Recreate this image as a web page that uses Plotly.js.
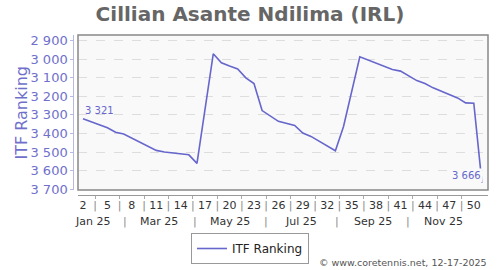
<!DOCTYPE html>
<html><head><meta charset="utf-8">
<script src="https://cdn.plot.ly/plotly-3.0.1.min.js"></script>
<style>html,body{margin:0;padding:0;background:#fff}#chart{width:500px;height:270px}</style>
</head><body><div id="chart"></div>
<script>
// ISO week numbers (2025) and ITF ranking values
const weeks   = [2, 5, 6, 7, 11, 12, 15, 16, 18, 19, 20, 21, 22, 23, 24, 25, 26, 28, 29, 30, 33, 34, 36, 40, 41, 43, 44, 45, 48, 49, 50, 51];
const ranking = [3321, 3370, 3394, 3403, 3491, 3500, 3515, 3561, 2972, 3020, 3038, 3053, 3101, 3132, 3277, 3308, 3335, 3357, 3398, 3416, 3493, 3363, 2988, 3056, 3065, 3116, 3132, 3155, 3209, 3236, 3238, 3666];
const weekTickLabels = [2, 5, 8, 11, 14, 17, 20, 23, 26, 29, 32, 35, 38, 41, 44, 47, 50];
const monthLabels = ['Jan 25', 'Mar 25', 'May 25', 'Jul 25', 'Sep 25', 'Nov 25'];
const monthLabelDates = ['2025-01-17', '2025-03-15', '2025-05-15', '2025-07-15', '2025-09-15', '2025-11-15'];
const monthSepDates = ['2025-02-14', '2025-04-15', '2025-06-15', '2025-08-15', '2025-10-15'];
const yTicks = [2900, 3000, 3100, 3200, 3300, 3400, 3500, 3600, 3700];
const seriesName = 'ITF Ranking';
const chartTitle = 'Cillian Asante Ndilima (IRL)';
const credit = '\u00a9 www.coretennis.net, 12-17-2025';

function weekDate(w) {
  const ms = Date.UTC(2025, 0, 2) + 7 * (w - 1) * 86400000;
  return new Date(ms).toISOString().replace('T', ' ').slice(0, 19);
}
function fmt(v) { return String(v).replace(/\B(?=(\d{3})+(?!\d))/g, ' '); }

const xDates = weeks.map(weekDate);
const sepWeeks = weekTickLabels.slice(0, -1).map(w => w + 1.5);
// interleave week labels and separators along the bottom axis
const tickWeeks = [], tickText = [];
weekTickLabels.forEach((w, i) => {
  tickWeeks.push(w); tickText.push(String(w));
  if (i < sepWeeks.length) { tickWeeks.push(sepWeeks[i]); tickText.push('<span style="color:#888">|</span>'); }
});
const xRange = ['2025-01-04 17:00', '2025-12-23 05:00'];

const lineColor = '#6666cc';
const font = 'DejaVu Sans, Verdana, sans-serif';
const axisPos = 1 - 194.5 / 270;
const monthRowY = 1 - 221.5 / 270;

const trace = {
  x: xDates, y: ranking, type: 'scatter', mode: 'lines', name: seriesName,
  line: {color: lineColor, width: 1.6}, showlegend: true, hoverinfo: 'skip'
};

const annotations = [];
annotations.push({
  x: xDates[0], y: ranking[0], xref: 'x', yref: 'y', text: fmt(ranking[0]),
  showarrow: false, xanchor: 'left', yanchor: 'middle', yshift: 8,
  font: {family: font, size: 10, color: lineColor}
});
const li = ranking.length - 1;
annotations.push({
  x: xDates[li], y: ranking[li], xref: 'x', yref: 'y', text: fmt(ranking[li]),
  showarrow: false, xanchor: 'right', yanchor: 'middle', yshift: 7, xshift: 1,
  bgcolor: '#f9f9f9', borderpad: 1,
  font: {family: font, size: 10, color: lineColor}
});
annotations.push({
  x: 21 / 500, y: 1 - 112.5 / 270, xref: 'paper', yref: 'paper', text: seriesName,
  textangle: -90, showarrow: false, xanchor: 'center', yanchor: 'middle',
  font: {family: font, size: 16, color: '#7070cc'}
});
monthLabels.forEach((m, i) => annotations.push({
  x: monthLabelDates[i], y: monthRowY, xref: 'x', yref: 'paper', text: m,
  showarrow: false, xanchor: 'center', yanchor: 'middle', borderpad: 0,
  font: {family: font, size: 11, color: '#333'}
}));
monthSepDates.forEach(d => annotations.push({
  x: d, y: monthRowY, xref: 'x', yref: 'paper', text: '|',
  showarrow: false, xanchor: 'center', yanchor: 'middle', borderpad: 0,
  font: {family: font, size: 11, color: '#888'}
}));
annotations.push({
  x: 0.978, y: 1 - 262 / 270, xref: 'paper', yref: 'paper', text: credit,
  showarrow: false, xanchor: 'right', yanchor: 'middle',
  font: {family: font, size: 9.5, color: '#555'}
});

const layout = {
  width: 500, height: 270,
  margin: {l: 0, r: 0, t: 0, b: 0},
  paper_bgcolor: '#ffffff', plot_bgcolor: '#f9f9f9',
  separators: '. ',
  font: {family: font, color: '#333'},
  title: {
    text: chartTitle, x: 0.5, xref: 'paper', xanchor: 'center',
    y: 1 - 14 / 270, yref: 'paper', yanchor: 'middle',
    font: {family: font, size: 20, color: '#666', weight: 'bold'}
  },
  xaxis: {
    type: 'date', range: xRange, domain: [0.156, 0.976],
    anchor: 'free', position: axisPos,
    tickmode: 'array', tickvals: tickWeeks.map(weekDate), ticktext: tickText,
    ticks: '', showline: true, linecolor: '#999', linewidth: 1,
    minor: {tickmode: 'array', tickvals: sepWeeks.map(weekDate), ticks: 'outside', ticklen: 3, tickcolor: '#aaa', showgrid: false},
    showgrid: false, zeroline: false, automargin: false,
    tickfont: {family: font, size: 11, color: '#333'}, ticklabelstandoff: 0
  },
  xaxis3: {
    type: 'date', range: xRange, domain: [0.156, 0.976], overlaying: 'x',
    anchor: 'y', side: 'bottom',
    tick0: '2025-02-01', dtick: 'M1', tickmode: 'linear',
    showticklabels: false, ticks: '', showline: false, zeroline: false,
    showgrid: true, gridcolor: '#dddddd', griddash: 'dash', gridwidth: 1, automargin: false
  },
  yaxis: {
    range: [3704, 2871], domain: [1 - 190 / 270, 1 - 35 / 270],
    anchor: 'free', position: 0.1466,
    tickmode: 'array', tickvals: yTicks, tickformat: ',d',
    ticks: 'outside', ticklen: 3, tickcolor: '#b8b8e0',
    showline: true, linecolor: '#b8b8e0', linewidth: 1,
    showgrid: true, gridcolor: '#dddddd', griddash: 'dash', zeroline: false,
    tickfont: {family: font, size: 13, color: '#7070cc'},
    automargin: false
  },
  shapes: [{
    type: 'rect', xref: 'x domain', yref: 'y domain', x0: 0, x1: 1, y0: 0, y1: 1,
    line: {color: '#888', width: 1.5}, fillcolor: 'rgba(0,0,0,0)', layer: 'above'
  }],
  annotations: annotations,
  showlegend: true,
  legend: {
    orientation: 'h', x: 0.5, xanchor: 'center', y: 1 - 233 / 270, yanchor: 'top',
    bgcolor: '#fff', bordercolor: '#999', borderwidth: 1,
    font: {family: font, size: 12, color: '#222'}, itemwidth: 30
  }
};

Plotly.newPlot('chart', [trace], layout, {staticPlot: true, displayModeBar: false});
</script>
</body></html>
